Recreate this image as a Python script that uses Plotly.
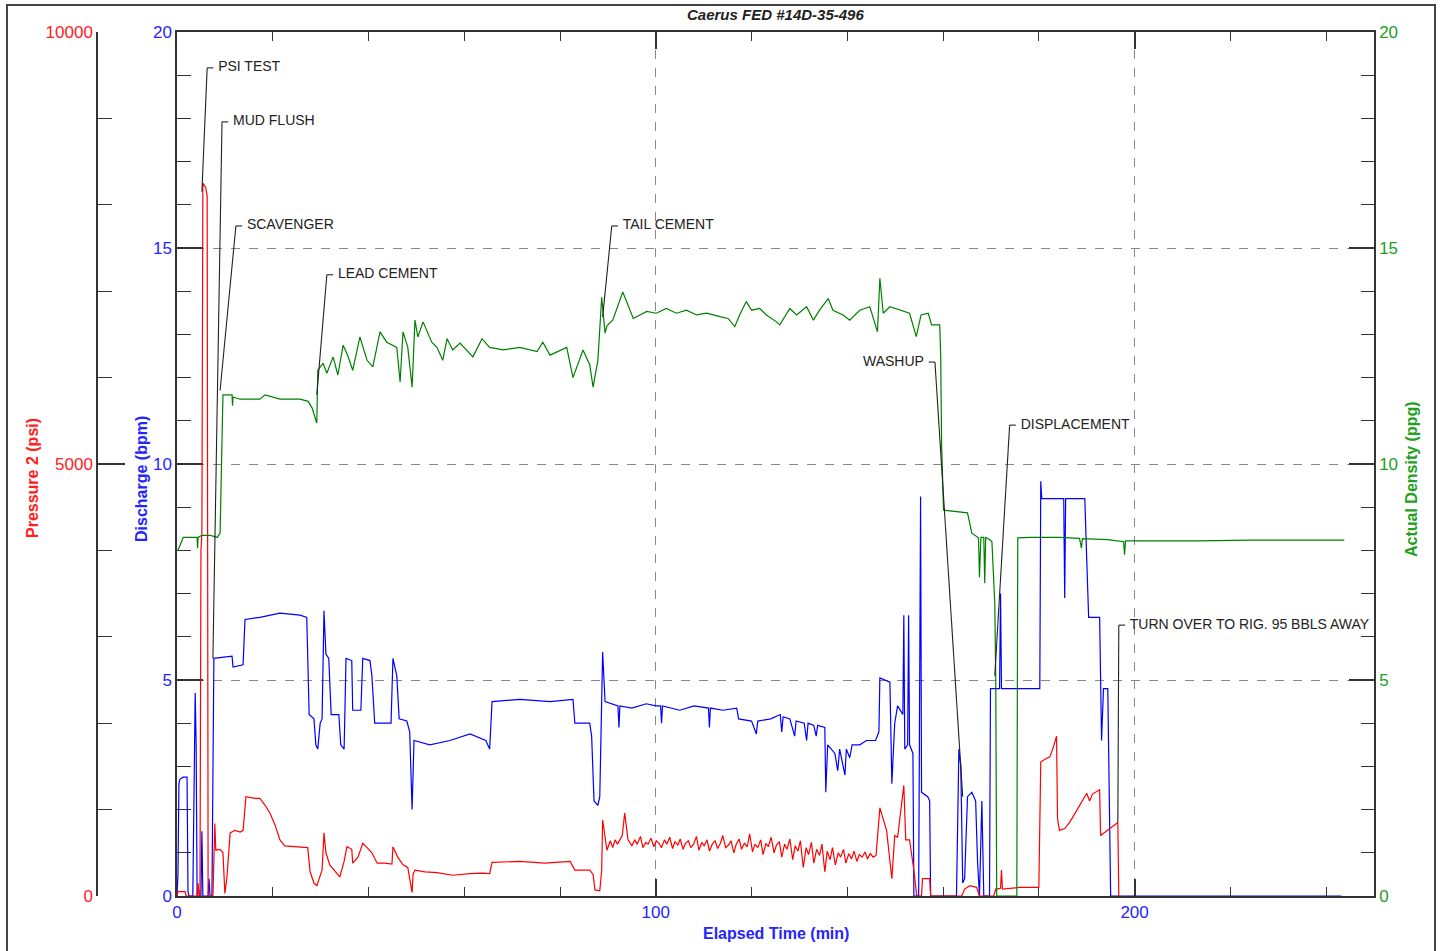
import plotly.graph_objects as go

# ---------------- data ----------------
# Discharge (bpm) vs elapsed time (min)
discharge_time = [
    0.0, 0.2, 0.4, 0.6, 1.3, 2.1, 2.3, 2.5, 3.3, 3.6,
    3.8, 4.0, 4.2, 5.0, 5.2, 5.4, 6.5, 6.7, 6.9, 7.3,
    7.7, 11.5, 11.7, 13.8, 14.2, 17.3, 21.5, 25.7, 27.1, 27.6,
    28.6, 29.0, 29.4, 29.9, 30.3, 30.7, 31.1, 31.7, 32.2, 33.8,
    34.2, 34.9, 35.3, 36.5, 36.7, 38.4, 38.8, 40.3, 40.7, 41.3,
    44.7, 45.1, 45.9, 46.4, 48.0, 48.6, 49.1, 49.5, 52.8, 57.0,
    61.2, 64.5, 65.3, 65.8, 71.6, 77.9, 82.7, 83.1, 86.2, 86.6,
    87.1, 87.9, 88.3, 88.9, 89.4, 92.1, 92.3, 92.5, 95.0, 98.0,
    100.0, 101.0, 101.2, 101.4, 105.0, 108.0, 111.0, 111.2, 111.4, 114.0,
    116.9, 117.3, 120.0, 121.0, 121.3, 124.0, 126.0, 126.3, 126.6, 128.0,
    129.0, 129.3, 131.0, 131.5, 131.8, 133.0, 133.5, 133.8, 135.3, 135.5,
    135.9, 137.4, 138.0, 138.4, 139.5, 139.8, 140.5, 141.0, 142.6, 144.0,
    145.9, 146.6, 146.8, 148.9, 149.3, 149.9, 150.5, 151.6, 151.8, 152.0,
    152.6, 152.8, 153.0, 153.7, 153.9, 154.9, 155.3, 155.5, 156.8, 157.2,
    157.4, 162.8, 163.3, 163.7, 164.1, 164.5, 165.1, 166.0, 166.8, 167.2,
    167.6, 168.1, 168.5, 169.7, 169.9, 171.8, 172.0, 172.2, 180.2, 180.4,
    180.6, 185.2, 185.4, 185.6, 189.6, 190.0, 190.4, 192.7, 193.1, 193.5,
    194.4, 195.0, 243.2,
]
discharge_bpm = [
    0.0, 0.5, 2.6, 2.7, 2.75, 2.75, 0.1, 0.0, 0.0, 3.0,
    4.7, 3.5, 0.0, 0.0, 1.5, 0.0, 0.0, 0.4, 0.0, 0.0,
    5.5, 5.55, 5.3, 5.35, 6.4, 6.45, 6.55, 6.5, 6.45, 4.2,
    4.1, 3.5, 3.4, 4.0, 4.1, 6.6, 5.6, 5.5, 4.2, 4.2,
    3.5, 3.4, 5.5, 5.45, 4.3, 4.3, 5.5, 5.45, 5.1, 4.0,
    4.0, 5.5, 5.1, 4.1, 4.05, 3.8, 2.0, 3.6, 3.5, 3.6,
    3.75, 3.6, 3.4, 4.5, 4.55, 4.5, 4.55, 4.0, 4.0, 3.7,
    2.2, 2.1, 2.3, 5.65, 4.5, 4.4, 3.9, 4.4, 4.35, 4.45,
    4.4, 4.4, 4.0, 4.4, 4.3, 4.4, 4.35, 3.9, 4.35, 4.3,
    4.35, 4.1, 4.05, 3.75, 4.05, 4.1, 4.2, 3.8, 4.15, 4.1,
    3.7, 4.05, 4.0, 3.6, 4.0, 3.95, 3.7, 3.95, 3.9, 2.4,
    3.5, 3.3, 2.9, 3.4, 2.8, 3.4, 3.2, 3.5, 3.5, 3.6,
    3.6, 3.8, 5.05, 4.95, 2.6, 4.0, 4.4, 4.2, 6.5, 3.4,
    3.5, 6.5, 3.5, 3.3, 0.0, 0.0, 9.25, 2.4, 2.3, 2.2,
    0.0, 0.0, 3.4, 3.0, 0.3, 0.4, 2.3, 2.4, 2.2, 0.8,
    0.0, 2.2, 0.0, 0.0, 4.8, 4.8, 7.0, 4.8, 4.8, 9.6,
    9.2, 9.2, 6.9, 9.2, 9.2, 7.8, 6.45, 6.45, 3.6, 4.8,
    4.8, 0.0, 0.0,
]

# Pressure 2 (psi) vs elapsed time (min)
pressure_time = [
    0.0, 0.2, 1.7, 1.9, 4.2, 4.4, 4.6, 4.8, 5.0, 5.2,
    5.4, 6.0, 6.3, 6.5, 7.5, 7.9, 8.1, 9.0, 9.6, 10.0,
    10.4, 11.1, 12.1, 13.2, 13.8, 14.4, 16.3, 17.3, 18.4, 19.4,
    20.5, 21.5, 22.5, 24.6, 27.3, 27.8, 28.6, 29.2, 29.9, 30.3,
    30.7, 31.1, 31.9, 33.0, 34.0, 34.9, 35.5, 36.5, 36.7, 37.8,
    38.8, 39.7, 40.7, 41.8, 43.4, 44.9, 45.1, 46.1, 47.2, 48.2,
    48.9, 49.1, 49.3, 49.7, 51.8, 54.3, 57.6, 61.2, 63.7, 65.3,
    65.8, 71.6, 76.8, 82.1, 83.1, 86.2, 86.9, 87.3, 88.3, 88.7,
    88.9, 89.8, 90.5, 91.0, 91.5, 92.0, 93.0, 93.5, 94.2, 95.0,
    95.6, 96.1, 96.8, 97.3, 97.9, 98.4, 99.0, 99.6, 100.1, 100.7,
    101.2, 101.8, 102.3, 102.9, 103.5, 104.0, 104.6, 105.1, 105.7, 106.2,
    106.8, 107.3, 107.9, 108.5, 109.0, 109.6, 110.1, 110.7, 111.2, 111.8,
    112.4, 112.9, 113.5, 114.0, 114.6, 115.2, 115.7, 116.3, 116.8, 117.4,
    117.9, 118.5, 119.1, 119.6, 120.2, 120.7, 121.3, 121.9, 122.4, 123.0,
    123.5, 124.1, 124.7, 125.2, 125.8, 126.3, 126.9, 127.4, 128.0, 128.6,
    129.1, 129.7, 130.2, 130.8, 131.4, 131.9, 132.5, 133.0, 133.6, 134.2,
    134.7, 135.3, 135.8, 136.4, 136.9, 137.5, 138.1, 138.6, 139.2, 139.7,
    140.3, 140.9, 141.4, 142.0, 142.5, 143.1, 143.7, 144.2, 144.8, 145.4,
    146.0, 146.8, 148.2, 149.3, 149.9, 150.5, 151.8, 152.2, 153.0, 153.9,
    154.5, 155.5, 155.7, 157.2, 157.4, 163.9, 164.5, 165.6, 167.0, 167.6,
    170.6, 171.0, 172.0, 172.2, 172.4, 176.0, 180.0, 180.4, 181.2, 182.3,
    182.9, 183.7, 183.9, 184.3, 185.4, 186.4, 187.5, 188.5, 189.6, 190.0,
    190.6, 191.2, 192.7, 192.9, 196.5, 196.7,
]
pressure_psi = [
    0, 50, 50, 0, 0, 150, 0, 0, 4000, 4200,
    8250, 8200, 8100, 0, 0, 840, 530, 540, 500, 30,
    200, 730, 760, 740, 760, 1150, 1130, 1130, 1050, 960,
    820, 650, 580, 570, 560, 280, 150, 120, 250, 300,
    730, 500, 360, 280, 220, 400, 570, 540, 380, 450,
    610, 560, 500, 380, 380, 370, 570, 450, 360, 330,
    120, 40, 250, 300, 280, 270, 240, 260, 265, 260,
    390, 400, 380, 400, 300, 300, 250, 70, 60, 300,
    880, 530, 640, 560, 650, 600, 700, 960, 650, 580,
    650, 600, 690, 560, 620, 600, 670, 570, 640, 610,
    560, 650, 600, 680, 550, 630, 590, 660, 540, 610,
    640, 560, 600, 690, 530, 620, 580, 650, 520, 600,
    640, 550, 610, 700, 560, 590, 640, 500, 600, 660,
    540, 610, 570, 720, 510, 600, 560, 650, 480, 610,
    570, 680, 500, 590, 630, 450, 600, 540, 660, 420,
    580, 520, 640, 330, 560, 480, 620, 380, 540, 470,
    600, 280, 520, 420, 560, 360, 500, 450, 540, 380,
    490, 430, 520, 400, 480, 450, 510, 430, 490, 450,
    470, 1020, 760, 200, 700, 680, 1280, 650, 650, 300,
    0, 0, 200, 200, 0, 0, 80, 120, 100, 0,
    0, 80, 90, 300, 80, 100, 100, 1550, 1580, 1610,
    1700, 1850, 900, 760, 780, 850, 950, 1050, 1150, 1190,
    1100, 1180, 1230, 700, 850, 0,
]

# Actual density (ppg) vs elapsed time (min)
density_time = [
    0.0, 0.2, 1.3, 2.7, 4.2, 4.3, 4.4, 5.2, 6.9, 8.4,
    9.0, 9.6, 11.5, 11.6, 11.7, 13.2, 17.3, 18.4, 21.5, 25.7,
    27.4, 28.2, 29.2, 29.4, 30.5, 31.3, 32.6, 33.6, 34.7, 35.7,
    36.7, 38.2, 39.7, 40.9, 42.4, 43.8, 45.9, 46.6, 47.2, 48.2,
    49.1, 49.7, 50.3, 51.4, 53.2, 54.3, 55.5, 56.4, 57.6, 59.1,
    61.8, 63.7, 65.3, 68.1, 71.6, 75.2, 76.4, 77.9, 81.4, 82.7,
    84.8, 86.2, 86.9, 87.9, 88.7, 89.4, 89.8, 91.0, 93.1, 95.3,
    98.1, 100.1, 102.2, 104.3, 106.4, 108.5, 110.6, 113.4, 115.1, 116.5,
    117.5, 118.9, 120.0, 121.7, 123.1, 125.2, 125.9, 128.0, 129.4, 131.5,
    132.9, 134.2, 136.0, 137.0, 139.1, 140.5, 142.6, 144.7, 146.3, 146.8,
    147.5, 148.9, 150.9, 153.0, 154.4, 155.4, 156.9, 157.6, 159.3, 159.5,
    159.7, 160.1, 165.1, 166.0, 167.4, 167.6, 167.9, 168.5, 168.7, 168.9,
    169.7, 170.2, 170.8, 171.0, 171.2, 175.4, 175.6, 178.1, 184.3, 188.5,
    188.9, 189.1, 194.4, 197.7, 197.9, 198.1, 213.6, 224.0, 234.5, 243.8,
]
density_ppg = [
    8.0, 8.0, 8.3, 8.3, 8.3, 8.05, 8.3, 8.35, 8.35, 8.3,
    8.4, 11.6, 11.6, 11.35, 11.55, 11.5, 11.5, 11.6, 11.5, 11.5,
    11.45, 11.3, 10.95, 12.17, 12.33, 12.1, 12.48, 12.06, 12.75, 12.5,
    12.17, 12.94, 12.4, 12.25, 13.06, 12.82, 12.7, 11.9, 13.06, 12.7,
    11.78, 13.33, 12.94, 13.29, 12.82, 12.7, 12.4, 12.9, 12.64, 12.8,
    12.48, 12.9, 12.7, 12.64, 12.7, 12.6, 12.82, 12.52, 12.7, 12.0,
    12.64, 12.3, 11.78, 12.4, 13.86, 13.03, 13.2, 13.33, 13.98, 13.37,
    13.53, 13.49, 13.6, 13.49, 13.56, 13.45, 13.49, 13.41, 13.37, 13.18,
    13.45, 13.76, 13.56, 13.6, 13.45, 13.29, 13.22, 13.6, 13.45, 13.64,
    13.33, 13.56, 13.83, 13.56, 13.45, 13.33, 13.56, 13.64, 13.06, 14.3,
    13.49, 13.64, 13.56, 13.49, 12.95, 13.45, 13.49, 13.22, 13.22, 12.5,
    10.4, 8.93, 8.87, 8.4, 8.29, 7.38, 8.3, 8.3, 7.24, 8.3,
    8.25, 8.2, 6.78, 5.0, 0.0, 0.0, 8.29, 8.3, 8.3, 8.28,
    8.05, 8.27, 8.25, 8.2, 7.9, 8.22, 8.22, 8.24, 8.24, 8.24,
]

# Job events (time in min, level on the discharge scale where the leader points)
event_names = ["PSI TEST", "MUD FLUSH", "SCAVENGER", "LEAD CEMENT", "TAIL CEMENT",
               "WASHUP", "DISPLACEMENT", "TURN OVER TO RIG. 95 BBLS AWAY"]
event_times = [5.2, 7.5, 9.0, 29.2, 88.9, 164.1, 170.8, 196.5]
event_values = [16.3, 5.5, 11.7, 11.6, 13.4, 2.3, 5.1, 1.7]

# Tick labels
time_ticks = [0, 100, 200]
discharge_ticks = [0, 5, 10, 15, 20]
pressure_ticks = [0, 5000, 10000]
density_ticks = [0, 5, 10, 15, 20]

# ---------------- layout of the event labels ----------------
label_t = [6.3, 9.4, 12.3, 31.3, 90.8, 158.3, 173.9, 196.7]
label_v = [19.17, 17.92, 15.51, 14.38, 15.51, 12.36, 10.9, 6.27]
label_left = [False, False, False, False, False, True, False, False]
HOOK = 1.3
GAP = 1.0

FONT = "Liberation Sans, Arial, sans-serif"
RED = "#ff0000"
BLUE = "#0000ff"
GREEN = "#008000"
AX = "#333333"
W, H = 1442, 951
L, R, T, B = 97, 68, 32, 55
PW = W - L - R
PH = H - T - B


def px_x(p):
    return (p - L) / PW


def px_y(p):
    return (H - B - p) / PH


fig = go.Figure()

fig.add_trace(go.Scatter(x=pressure_time, y=pressure_psi, mode="lines", yaxis="y2",
                         line=dict(color=RED, width=1.2), showlegend=False,
                         cliponaxis=False, name="Pressure 2"))
fig.add_trace(go.Scatter(x=discharge_time, y=discharge_bpm, mode="lines", yaxis="y",
                         line=dict(color=BLUE, width=1.2), showlegend=False,
                         cliponaxis=False, name="Discharge"))
fig.add_trace(go.Scatter(x=density_time, y=density_ppg, mode="lines", yaxis="y3",
                         line=dict(color=GREEN, width=1.2), showlegend=False,
                         cliponaxis=False, name="Actual Density"))

# leader lines for the events
shapes = []
text_x, text_pos = [], []
for et, ev, lt, lv, left in zip(event_times, event_values, label_t, label_v, label_left):
    shapes.append(dict(type="line", xref="x", yref="y", x0=et, y0=ev, x1=lt, y1=lv,
                       line=dict(color="#222222", width=1.1), layer="above"))
    hx = lt - HOOK if left else lt + HOOK
    shapes.append(dict(type="line", xref="x", yref="y", x0=lt, y0=lv, x1=hx, y1=lv,
                       line=dict(color="#222222", width=1.1), layer="above"))
    text_x.append(hx - GAP if left else hx + GAP)
    text_pos.append("middle left" if left else "middle right")

fig.add_trace(go.Scatter(x=text_x, y=label_v, mode="text", text=event_names,
                         textposition=text_pos, yaxis="y", cliponaxis=True,
                         textfont=dict(family=FONT, size=14, color="#222222"),
                         hoverinfo="skip", showlegend=False))

# outer frame
shapes.append(dict(type="rect", xref="paper", yref="paper",
                   x0=px_x(7), x1=px_x(1435), y0=px_y(975), y1=px_y(5),
                   line=dict(color="#444444", width=2), layer="below"))

x0dom = px_x(177)

fig.update_layout(
    width=W, height=H,
    margin=dict(l=L, r=R, t=T, b=B, autoexpand=False),
    paper_bgcolor="white", plot_bgcolor="white",
    font=dict(family=FONT, color=AX),
    showlegend=False,
    shapes=shapes,
    xaxis=dict(domain=[x0dom, 1], range=[0, 250], tickvals=time_ticks,
               ticks="inside", ticklen=17, tickwidth=1.5, tickcolor=AX,
               minor=dict(dtick=20, ticks="inside", ticklen=9, tickcolor=AX, tickwidth=1.2),
               showline=True, linecolor=AX, linewidth=1.5, mirror="ticks",
               showgrid=True, gridcolor="#888888", griddash="dash", gridwidth=1,
               zeroline=False, tickfont=dict(size=17, color="#2424ff"),
               layer="below traces", automargin=False),
    yaxis=dict(range=[0, 20], tickvals=discharge_ticks, anchor="x", side="left",
               ticks="inside", ticklen=26, tickwidth=1.5, tickcolor=AX,
               minor=dict(dtick=1, ticks="inside", ticklen=14, tickcolor=AX, tickwidth=1.2),
               showline=True, linecolor=AX, linewidth=1.5,
               showgrid=True, gridcolor="#888888", griddash="dash", gridwidth=1,
               zeroline=False, tickfont=dict(size=17, color="#2424ff"),
               layer="below traces", automargin=False),
    yaxis2=dict(range=[0, 10000], tickvals=pressure_ticks, tickformat="d",
                overlaying="y", anchor="free", position=0, side="left",
                ticks="inside", ticklen=27, tickwidth=1.5, tickcolor=AX,
                minor=dict(dtick=1000, ticks="inside", ticklen=14, tickcolor=AX, tickwidth=1.2),
                showline=True, linecolor=AX, linewidth=1.5, showgrid=False,
                zeroline=False, tickfont=dict(size=17, color="#ff2020"),
                automargin=False),
    yaxis3=dict(range=[0, 20], tickvals=density_ticks, overlaying="y", anchor="x",
                side="right",
                ticks="inside", ticklen=25, tickwidth=1.5, tickcolor=AX,
                minor=dict(dtick=1, ticks="inside", ticklen=13, tickcolor=AX, tickwidth=1.2),
                showline=True, linecolor=AX, linewidth=1.5, showgrid=False,
                zeroline=False, tickfont=dict(size=17, color="#22a022"),
                layer="below traces", automargin=False),
    annotations=[
        dict(text="<b><i>Caerus FED #14D-35-496</i></b>", xref="paper", yref="paper",
             x=px_x(776), y=px_y(14), showarrow=False, xanchor="center", yanchor="middle",
             font=dict(size=15, color="#222222", family=FONT)),
        dict(text="<b>Elapsed Time (min)</b>", xref="paper", yref="paper",
             x=px_x(776), y=px_y(933), showarrow=False, xanchor="center", yanchor="middle",
             font=dict(size=16, color="#2424ff", family=FONT)),
        dict(text="<b>Pressure 2 (psi)</b>", xref="paper", yref="paper",
             x=px_x(32), y=px_y(478), showarrow=False, textangle=-90,
             xanchor="center", yanchor="middle",
             font=dict(size=16, color="#ff2020", family=FONT)),
        dict(text="<b>Discharge (bpm)</b>", xref="paper", yref="paper",
             x=px_x(141), y=px_y(479), showarrow=False, textangle=-90,
             xanchor="center", yanchor="middle",
             font=dict(size=16, color="#2424ff", family=FONT)),
        dict(text="<b>Actual Density (ppg)</b>", xref="paper", yref="paper",
             x=px_x(1411), y=px_y(479), showarrow=False, textangle=-90,
             xanchor="center", yanchor="middle",
             font=dict(size=16, color="#22a022", family=FONT)),
    ],
)

fig.write_html("out.html", config={"displayModeBar": False},
               post_script="document.body.style.margin='0px';")
